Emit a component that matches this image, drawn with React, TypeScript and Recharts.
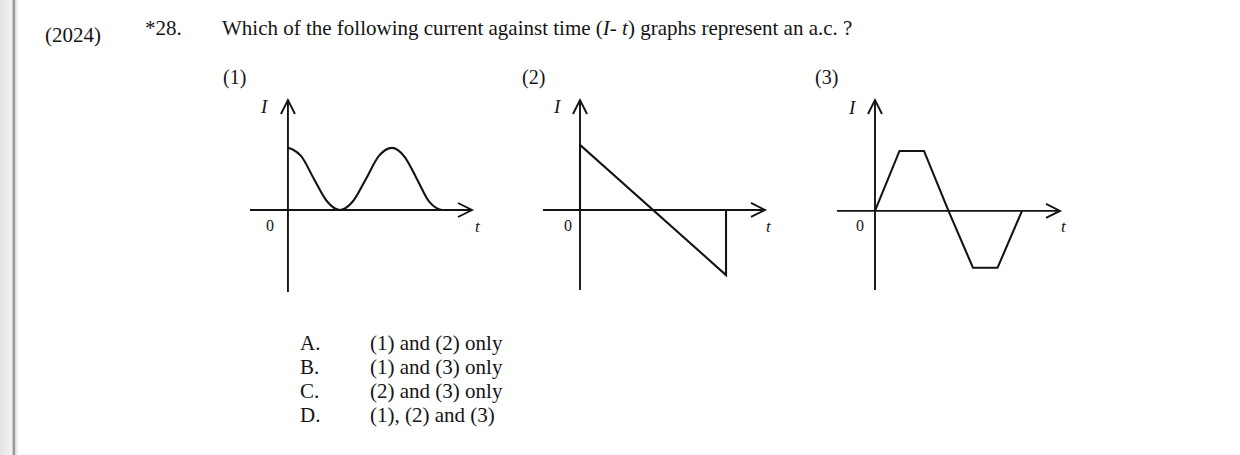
import React from "react";
import { LineChart, Line, XAxis, YAxis, ReferenceLine } from "recharts";

// ---------- data ----------
const questionYear = "(2024)";
const questionNo = "*28.";
const questionText = "Which of the following current against time (";
const questionTail = ") graphs represent an a.c. ?";
const graphLabels = ["(1)", "(2)", "(3)"];
const optionLetters = ["A.", "B.", "C.", "D."];
const optionTexts = ["(1) and (2) only", "(1) and (3) only", "(2) and (3) only", "(1), (2) and (3)"];

// graph (1): smooth wave, never below zero
const g1T = [0, 0.1, 0.25, 0.5, 0.75, 1, 1.25, 1.5, 1.75, 2, 2.24, 2.48, 2.72, 2.86, 2.96];
const g1I = [1, 0.97, 0.87, 0.5, 0.14, 0, 0.14, 0.5, 0.87, 1, 0.86, 0.5, 0.13, 0.03, 0];
// graph (2): sawtooth ramp
const g2T = [0, 0, 2, 2];
const g2I = [0, 1, -1, 0];
// graph (3): trapezoidal wave
const g3T = [0, 1, 2, 3, 4, 5, 6];
const g3I = [0, 1, 1, 0, -0.95, -0.95, 0];

const zip = (ts: number[], is: number[]) => ts.map((t, i) => ({ t, I: is[i] }));

// ---------- styles ----------
const FONT = '"Liberation Serif", "Times New Roman", "DejaVu Serif", serif';
const INK = "#141414";

const ArrowShape = (props: any) => {
  const { x1, y1, x2, y2 } = props;
  const dx = x2 - x1;
  const dy = y2 - y1;
  const len = Math.hypot(dx, dy) || 1;
  const ux = dx / len;
  const uy = dy / len;
  const back = 14;
  const spread = 7;
  const ax = x2 - ux * back;
  const ay = y2 - uy * back;
  const px = -uy;
  const py = ux;
  return (
    <g>
      <line x1={x1} y1={y1} x2={x2} y2={y2} stroke={INK} strokeWidth={1.9} />
      <polyline
        points={`${ax + px * spread},${ay + py * spread} ${x2},${y2} ${ax - px * spread},${ay - py * spread}`}
        fill="none"
        stroke={INK}
        strokeWidth={1.9}
      />
    </g>
  );
};

type GraphProps = {
  data: { t: number; I: number }[];
  box: { left: number; right: number; top: number; bottom: number };
  xDomain: [number, number];
  yDomain: [number, number];
  curve: "monotone" | "linear";
};

const M = 10;

const Graph = ({ data, box, xDomain, yDomain, curve }: GraphProps) => {
  const w = box.right - box.left + 2 * M;
  const h = box.bottom - box.top + 2 * M;
  return (
    <div style={{ position: "absolute", left: box.left - M, top: box.top - M }}>
      <LineChart width={w} height={h} data={data} margin={{ top: M, right: M, bottom: M, left: M }}>
        <XAxis type="number" dataKey="t" domain={xDomain} hide allowDataOverflow />
        <YAxis type="number" domain={yDomain} hide allowDataOverflow />
        <ReferenceLine
          ifOverflow="visible"
          segment={[{ x: xDomain[0], y: 0 }, { x: xDomain[1], y: 0 }]}
          shape={ArrowShape}
        />
        <ReferenceLine
          ifOverflow="visible"
          segment={[{ x: 0, y: yDomain[0] }, { x: 0, y: yDomain[1] }]}
          shape={ArrowShape}
        />
        <Line
          type={curve}
          dataKey="I"
          stroke={INK}
          strokeWidth={2.1}
          dot={false}
          activeDot={false}
          isAnimationActive={false}
        />
      </LineChart>
    </div>
  );
};

const axisLabels = [
  { I: [261, 113], zero: [266, 231], t: [475, 232] },
  { I: [554, 113], zero: [564, 231], t: [766, 232] },
  { I: [849, 114], zero: [856, 231], t: [1061, 232] },
];
const graphLabelPos = [[223, 84], [522, 84], [815, 84]];

export default function App() {
  return (
    <div
      style={{
        position: "absolute",
        left: 0,
        top: 0,
        width: 1240,
        height: 455,
        background: "#ffffff",
        overflow: "hidden",
      }}
    >
      <svg width={1240} height={455} style={{ position: "absolute", left: 0, top: 0 }}>
        <defs>
          <linearGradient id="edge" x1="0" x2="1" y1="0" y2="0">
            <stop offset="0" stopColor="#e4e4e4" />
            <stop offset="1" stopColor="#f3f3f3" />
          </linearGradient>
        </defs>
        <rect x={0} y={0} width={13} height={455} fill="url(#edge)" />
        <rect x={12.5} y={0} width={3} height={455} fill="#9c9c9c" />
        <rect x={15.5} y={0} width={2} height={455} fill="#e8e8e8" />

        <g fontFamily={FONT} fill={INK}>
          <text x={45} y={42} fontSize={21}>{questionYear}</text>
          <text x={145} y={35} fontSize={21}>{questionNo}</text>
          <text x={222} y={35} fontSize={21}>
            {questionText}
            <tspan fontStyle="italic">I</tspan>
            {"- "}
            <tspan fontStyle="italic">t</tspan>
            {questionTail}
          </text>

          {graphLabels.map((g, i) => (
            <text key={g} x={graphLabelPos[i][0]} y={graphLabelPos[i][1]} fontSize={20}>{g}</text>
          ))}

          {axisLabels.map((a, i) => (
            <g key={i}>
              <text x={a.I[0]} y={a.I[1]} fontSize={19} fontStyle="italic">I</text>
              <text x={a.zero[0]} y={a.zero[1]} fontSize={16}>0</text>
              <text x={a.t[0]} y={a.t[1]} fontSize={17} fontStyle="italic">t</text>
            </g>
          ))}

          {optionLetters.map((l, i) => (
            <g key={l}>
              <text x={300} y={350 + i * 24} fontSize={21}>{l}</text>
              <text x={370} y={350 + i * 24} fontSize={21}>{optionTexts[i]}</text>
            </g>
          ))}
        </g>
      </svg>

      <Graph
        data={zip(g1T, g1I)}
        box={{ left: 250, right: 472, top: 100, bottom: 292 }}
        xDomain={[-0.73, 3.54]}
        yDomain={[-1.32, 1.77]}
        curve="monotone"
      />
      <Graph
        data={zip(g2T, g2I)}
        box={{ left: 543, right: 765, top: 100, bottom: 290 }}
        xDomain={[-0.507, 2.534]}
        yDomain={[-1.23, 1.69]}
        curve="linear"
      />
      <Graph
        data={zip(g3T, g3I)}
        box={{ left: 837, right: 1060, top: 100, bottom: 290 }}
        xDomain={[-1.55, 7.55]}
        yDomain={[-1.32, 1.85]}
        curve="linear"
      />
    </div>
  );
}
